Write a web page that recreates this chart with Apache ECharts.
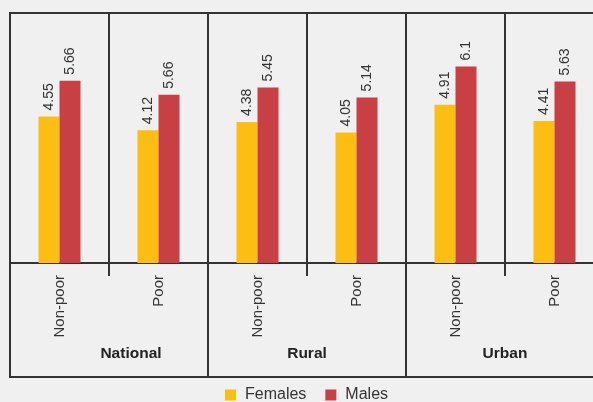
<!DOCTYPE html>
<html>
<head>
<meta charset="utf-8">
<script src="https://cdn.jsdelivr.net/npm/echarts@6/dist/echarts.min.js"></script>
<style>
  html, body { margin: 0; padding: 0; background: #eff0ef; }
  #chart { width: 593px; height: 402px; }
</style>
</head>
<body>
<div id="chart"></div>
<script>
// categories and values
var categories = ['Non-poor', 'Poor', 'Non-poor', 'Poor', 'Non-poor', 'Poor'];
var groups = ['National', 'Rural', 'Urban'];
var females = [4.55, 4.12, 4.38, 4.05, 4.91, 4.41];
var males = [5.66, 5.22, 5.45, 5.14, 6.1, 5.63];
// printed labels (the chart prints 5.66 on the shorter national poor bar)
var femaleLabels = ['4.55', '4.12', '4.38', '4.05', '4.91', '4.41'];
var maleLabels = ['5.66', '5.66', '5.45', '5.14', '6.1', '5.63'];

var myChart = echarts.init(document.getElementById('chart'));
var lineCol = '#333';
var font = 'Liberation Sans, Arial, sans-serif';

var valLabel = function (arr) {
  return {
    show: true,
    position: 'top',
    rotate: 90,
    align: 'left',
    verticalAlign: 'middle',
    distance: 6,
    fontSize: 14,
    fontFamily: font,
    color: '#333',
    formatter: function (p) { return arr[p.dataIndex]; }
  };
};

var option = {
  backgroundColor: '#eff0ef',
  animation: false,
  color: ['#fdbe14', '#c94044'],
  legend: {
    top: 382,
    left: 220,
    itemWidth: 11,
    itemHeight: 11,
    itemGap: 19,
    icon: 'rect',
    textStyle: { fontSize: 16, fontFamily: font, color: '#333', padding: [0, 0, 0, 4] },
    data: ['Females', 'Males']
  },
  grid: { left: 10, top: 13, right: -11, bottom: 139, outerBoundsMode: 'none', containLabel: false },
  xAxis: [{
    type: 'category',
    data: categories,
    axisLine: { lineStyle: { color: lineCol, width: 2 } },
    axisTick: { show: true, length: 13, lineStyle: { color: lineCol, width: 2 } },
    splitLine: { show: true, lineStyle: { color: lineCol, width: 2 } },
    axisLabel: {
      rotate: 90, margin: 12, fontSize: 15, fontFamily: font, color: '#333', interval: 0
    }
  }, {
    type: 'category',
    position: 'bottom',
    data: [
      { value: groups[0], textStyle: { padding: [0, 0, 0, 44] } },
      groups[1],
      groups[2]
    ],
    axisLine: { show: false },
    axisTick: { show: true, length: 114, lineStyle: { color: lineCol, width: 2 } },
    splitLine: { show: false },
    axisLabel: {
      margin: 83, fontSize: 15.5, fontWeight: 'bold', fontFamily: font, color: '#222', interval: 0
    }
  }],
  yAxis: {
    type: 'value',
    min: 0,
    max: 7.76,
    show: false,
    splitLine: { show: false }
  },
  graphic: [{
    type: 'rect',
    shape: { x: 10, y: 13, width: 620, height: 364 },
    style: { fill: 'none', stroke: lineCol, lineWidth: 2 },
    silent: true
  }],
  series: [{
    name: 'Females',
    type: 'bar',
    barWidth: 21,
    barGap: '0%',
    data: females,
    label: valLabel(femaleLabels)
  }, {
    name: 'Males',
    type: 'bar',
    barWidth: 21,
    barGap: '0%',
    data: males,
    label: valLabel(maleLabels)
  }]
};
myChart.setOption(option);
</script>
</body>
</html>
